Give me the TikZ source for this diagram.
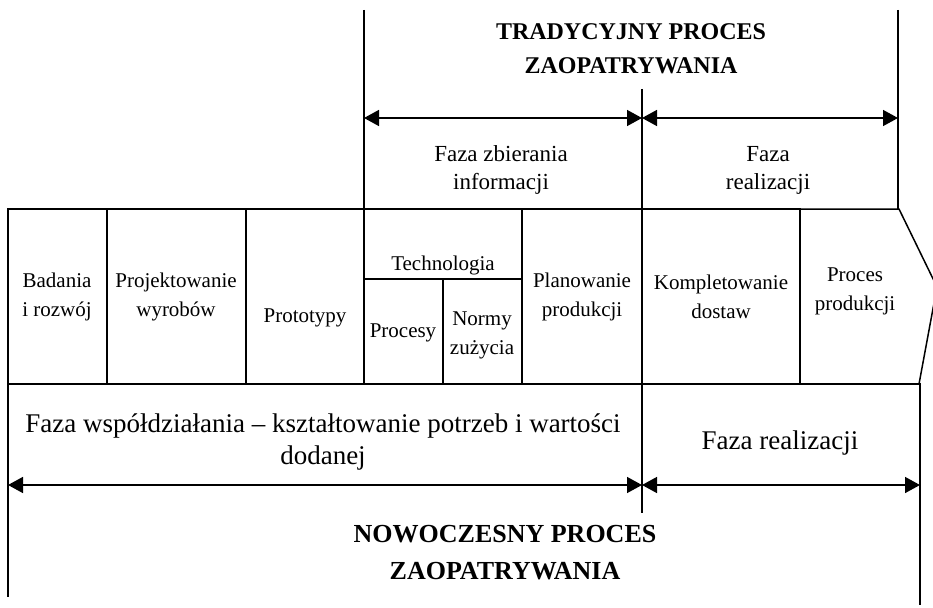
\documentclass[tikz,border=0pt]{standalone}
\usepackage{fontspec}
\setmainfont{Liberation Serif}
\usetikzlibrary{arrows.meta}
\begin{document}
\begin{tikzpicture}[x=1pt,y=-1pt,
  rule/.style={line width=1.5pt},
  span/.style={line width=1.5pt,{Triangle[length=15pt,width=16pt]}-{Triangle[length=15pt,width=16pt]}},
  cell/.style={draw,line width=1.5pt,anchor=north west,inner sep=0pt,outer sep=0pt},
  txt/.style={align=center,inner sep=0pt,font=\fontsize{21}{29}\selectfont},
  phase/.style={align=center,inner sep=0pt,font=\fontsize{23}{28}\selectfont},
  bigphase/.style={align=center,inner sep=0pt,font=\fontsize{27}{32}\selectfont},
  title/.style={align=center,inner sep=0pt,font=\bfseries\fontsize{24}{34}\selectfont}]
\useasboundingbox (0,0) rectangle (933,607);

% key coordinates
\coordinate (tl) at (364,10);
\coordinate (tr) at (898,10);
\coordinate (tm) at (642,89);
\coordinate (tlb) at (364,209);
\coordinate (trb) at (898,209);
\coordinate (tmb) at (642,209);
\coordinate (aL) at (364,118);
\coordinate (aM) at (642,118);
\coordinate (aR) at (898,118);
\coordinate (bL) at (8,485);
\coordinate (bM) at (642,485);
\coordinate (bR) at (920,485);
\coordinate (lb) at (8,597);
\coordinate (rt) at (920,384);
\coordinate (rb) at (920,605);
\coordinate (mt) at (642,384);
\coordinate (mb) at (642,513);

% upper frame: traditional process
\draw[rule] (tl) -- (tlb);
\draw[rule] (tr) -- (trb);
\draw[rule] (tm) -- (tmb);
\draw[span] (aL) -- (aM);
\draw[span] (aM) -- (aR);

\node[title] (trad) at (631,49) {TRADYCYJNY PROCES\\ZAOPATRYWANIA};
\node[phase] (fzi) at (501,170) {Faza zbierania\\informacji};
\node[phase] (fre) at (768,170) {Faza\\realizacji};

% row of activity cells
\node[cell,minimum width=99pt,minimum height=175pt] (c1) at (8,209) {};
\node[cell,minimum width=139pt,minimum height=175pt] (c2) at (107,209) {};
\node[cell,minimum width=118pt,minimum height=175pt] (c3) at (246,209) {};
\node[cell,minimum width=158pt,minimum height=70pt] (c4) at (364,209) {};
\node[cell,minimum width=79pt,minimum height=105pt] (c4a) at (364,279) {};
\node[cell,minimum width=79pt,minimum height=105pt] (c4b) at (443,279) {};
\node[cell,minimum width=120pt,minimum height=175pt] (c5) at (522,209) {};
\node[cell,minimum width=158pt,minimum height=175pt] (c6) at (642,209) {};
\draw[rule,line join=miter] (800,209) -- (899,209) -- (937,287) -- (919,384) -- (800,384) -- cycle;

\node[txt] (t1) at (57,297) {Badania\\i rozwój};
\node[txt] (t2) at (176,297) {Projektowanie\\wyrobów};
\node[txt] (t3) at (305,318) {Prototypy};
\node[txt] (t4) at (443,265) {Technologia};
\node[txt] (t4a) at (403,333) {Procesy};
\node[txt] (t4b) at (482,335) {Normy\\zużycia};
\node[txt] (t5) at (582,297) {Planowanie\\produkcji};
\node[txt] (t6) at (721,297) {Kompletowanie\\dostaw};
\node[txt] (t7) at (855,291) {Proces\\produkcji};

% lower frame: modern process
\draw[rule] (8,209) -- (lb);
\draw[rule] (8,384) -- (rt) -- (rb);
\draw[rule] (mt) -- (mb);
\draw[span] (bL) -- (bM);
\draw[span] (bM) -- (bR);

\node[bigphase] (fws) at (323,442) {Faza współdziałania – kształtowanie potrzeb i wartości\\dodanej};
\node[bigphase] (fre2) at (780,443) {Faza realizacji};
\node[title,font=\bfseries\fontsize{26}{37}\selectfont] (now) at (505,553) {NOWOCZESNY PROCES\\ZAOPATRYWANIA};
\end{tikzpicture}
\end{document}
